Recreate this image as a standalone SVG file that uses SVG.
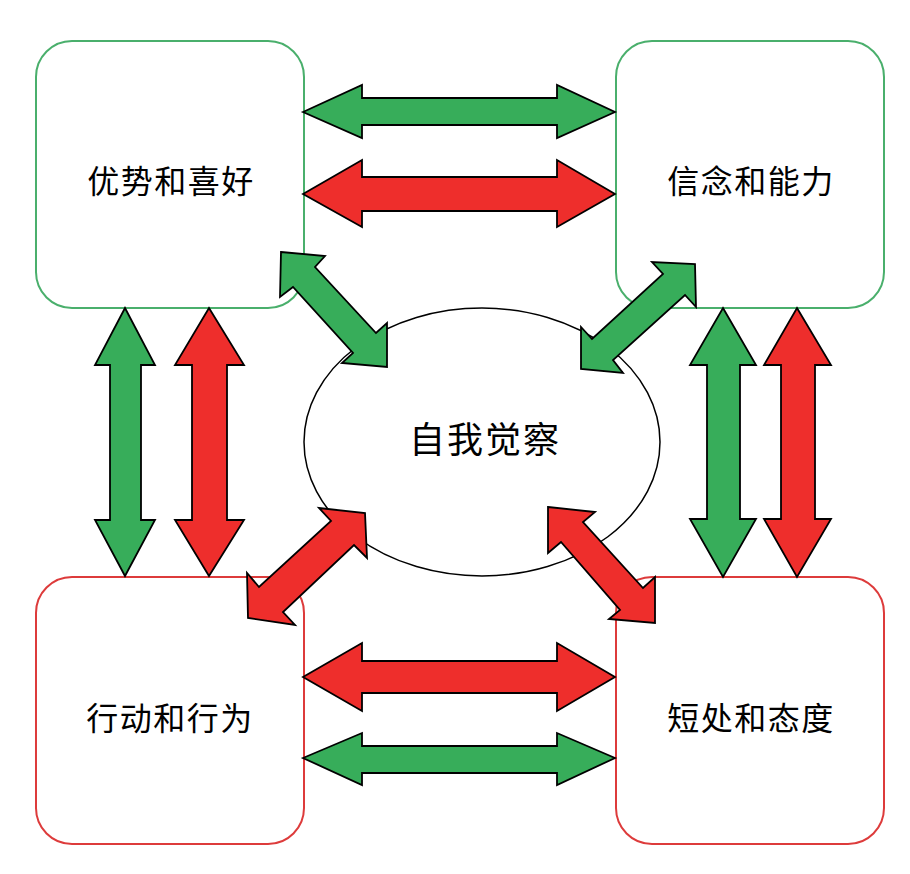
<svg xmlns="http://www.w3.org/2000/svg" width="910" height="874" viewBox="0 0 910 874">
<style>
.box{fill:#fff;stroke-width:2}
.g{stroke:#4aaf6c}
.r{stroke:#dd3b3b}
.lbl{font-family:"Noto Sans CJK SC","Noto Sans CJK JP",sans-serif;font-size:32px;letter-spacing:1.5px;fill:#000;text-anchor:middle;dominant-baseline:central}
.ag{fill:#37ad5a;stroke:#000;stroke-width:1.8;stroke-linejoin:miter}
.ar{fill:#ee2e2c;stroke:#000;stroke-width:1.8;stroke-linejoin:miter}
</style>
<rect width="910" height="874" fill="#fff"/>
<g id="node-center">
<ellipse cx="482" cy="442" rx="178" ry="134" fill="#fff" stroke="#000" stroke-width="1.5"/>
<text class="lbl" x="485" y="437" style="font-size:36px;letter-spacing:2px">自我觉察</text>
</g>
<g id="node-tl">
<rect class="box g" x="36" y="41" width="268" height="267" rx="36"/>
<text class="lbl" x="171" y="179">优势和喜好</text>
</g>
<g id="node-tr">
<rect class="box g" x="616" y="41" width="268" height="267" rx="36"/>
<text class="lbl" x="751" y="179">信念和能力</text>
</g>
<g id="node-bl">
<rect class="box r" x="36" y="577" width="268" height="267" rx="36"/>
<text class="lbl" x="170" y="716">行动和行为</text>
</g>
<g id="node-br">
<rect class="box r" x="616" y="577" width="268" height="267" rx="36"/>
<text class="lbl" x="751" y="716">短处和态度</text>
</g>
<g id="connectors">
<polygon class="ag" points="303,112 362,85 362,98 557,98 557,85 615,112 557,138 557,125 362,125 362,138"/>
<polygon class="ar" points="303,194 362,160 362,177 557,177 557,160 615,194 557,227 557,211 362,211 362,227"/>
<polygon class="ar" points="303,677 362,643 362,661 557,661 557,643 615,677 557,711 557,693 362,693 362,711"/>
<polygon class="ag" points="303,758 362,733 362,746 557,746 557,733 615,758 557,785 557,773 362,773 362,785"/>
<polygon class="ag" points="125,308 155,365 141,365 141,520 155,520 125,576 95,520 110,520 110,365 95,365"/>
<polygon class="ar" points="209,308 244,365 227,365 227,520 244,520 209,576 175,520 192,520 192,365 175,365"/>
<polygon class="ag" points="723,308 756,365 740,365 740,519 756,519 723,577 690,519 707,519 707,365 690,365"/>
<polygon class="ar" points="797,308 831,365 815,365 815,519 831,519 797,577 764,519 781,519 781,365 764,365"/>
<polygon class="ag" points="281,252 325,256 315,267 376,333 387,323 387,367 342,363 353,353 293,287 280,297"/>
<polygon class="ag" points="695,264 696,307 685,295 613,360 623,373 581,369 581,327 592,339 663,274 652,262"/>
<polygon class="ar" points="365,513 367,558 354,545 283,612 295,625 248,618 247,573 259,587 331,521 319,508"/>
<polygon class="ar" points="548,507 595,512 583,522 643,588 655,577 655,623 609,619 620,610 561,542 548,553"/>
</g>
</svg>
